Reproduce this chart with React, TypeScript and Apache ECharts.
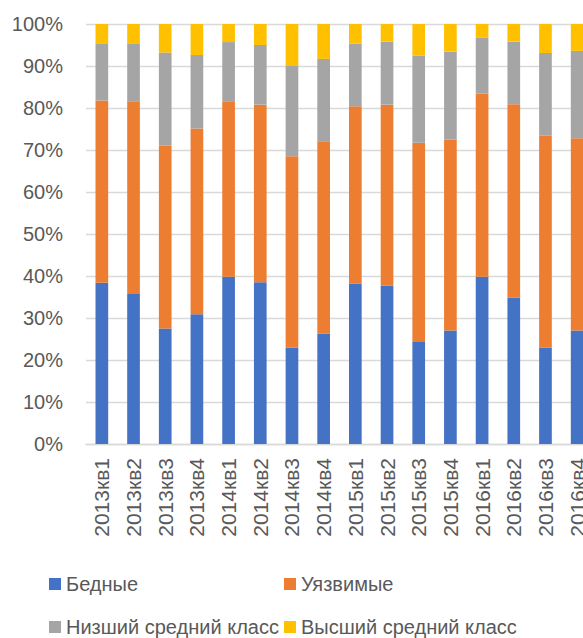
import React, { useEffect, useRef } from "react";
import * as echarts from "echarts";

const categories = [
  "2013кв1", "2013кв2", "2013кв3", "2013кв4",
  "2014кв1", "2014кв2", "2014кв3", "2014кв4",
  "2015кв1", "2015кв2", "2015кв3", "2015кв4",
  "2016кв1", "2016кв2", "2016кв3", "2016кв4",
];
const poor = [38.4, 35.7, 27.5, 30.9, 39.8, 38.5, 22.9, 26.3, 38.2, 37.7, 24.3, 27.0, 39.8, 34.9, 23.0, 27.0];
const vulnerable = [43.4, 45.9, 43.5, 44.2, 41.8, 42.3, 45.6, 45.8, 42.2, 43.1, 47.4, 45.5, 43.6, 46.0, 50.4, 45.8];
const lowerMiddle = [13.6, 13.8, 22.2, 17.5, 14.1, 14.2, 21.5, 19.6, 14.9, 15.0, 20.8, 20.9, 13.3, 14.9, 19.7, 20.8];
const upperMiddle = [4.6, 4.6, 6.8, 7.4, 4.3, 5.0, 10.0, 8.3, 4.7, 4.2, 7.5, 6.6, 3.3, 4.2, 6.9, 6.4];

const seriesNames = ["Бедные", "Уязвимые", "Низший средний класс", "Высший средний класс"];
const seriesColors = ["#4472C4", "#ED7D31", "#A5A5A5", "#FFC000"];
const seriesData = [poor, vulnerable, lowerMiddle, upperMiddle];

const FONT = "Liberation Sans";
const TEXT = "#595959";

export default function App() {
  const ref = useRef<HTMLDivElement>(null);
  useEffect(() => {
    if (!ref.current) return;
    const chart = echarts.init(ref.current, undefined, { renderer: "svg" });
    const legendPos = [
      { left: 49, top: 573 },
      { left: 284, top: 573 },
      { left: 49, top: 616 },
      { left: 284, top: 616 },
    ];
    chart.setOption({
      animation: false,
      backgroundColor: "#ffffff",
      grid: { left: 86, top: 24, height: 420, width: 507 },
      legend: seriesNames.map((n, i) => ({
        data: [n],
        left: legendPos[i].left,
        top: legendPos[i].top,
        itemWidth: 12,
        itemHeight: 12,
        itemGap: 0,
        padding: 0,
        icon: "rect",
        textStyle: { fontSize: 20, lineHeight: 22, color: TEXT, fontFamily: FONT },
      })),
      xAxis: {
        type: "category",
        data: categories,
        axisLine: { lineStyle: { color: "#d9d9d9", width: 1.3 } },
        axisTick: { show: false },
        axisLabel: {
          rotate: 90,
          fontSize: 21,
          color: TEXT,
          fontFamily: FONT,
          margin: 14,
          interval: 0,
        },
      },
      yAxis: {
        type: "value",
        min: 0,
        max: 100,
        interval: 10,
        axisLine: { show: false },
        axisTick: { show: false },
        splitLine: { lineStyle: { color: "#d9d9d9", width: 1.3 } },
        axisLabel: {
          formatter: "{value}%",
          fontSize: 20,
          color: TEXT,
          fontFamily: FONT,
          margin: 23,
        },
      },
      series: seriesNames.map((n, i) => ({
        name: n,
        type: "bar",
        stack: "total",
        barWidth: "40%",
        data: seriesData[i],
        itemStyle: { color: seriesColors[i] },
      })),
    });
    return () => chart.dispose();
  }, []);
  return (
    <div style={{ position: "absolute", left: 0, top: 0, width: 583, height: 638, overflow: "hidden" }}>
      <div ref={ref} style={{ width: 610, height: 638 }} />
    </div>
  );
}
